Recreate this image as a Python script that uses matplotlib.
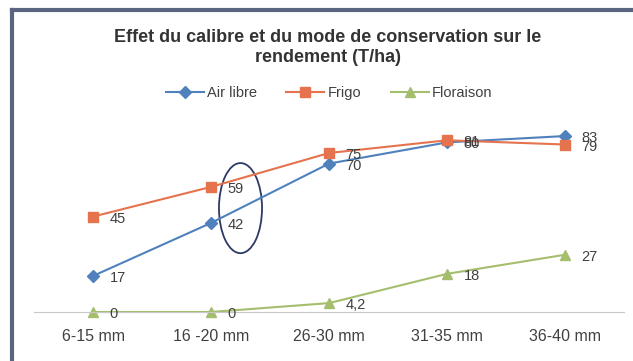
import matplotlib.pyplot as plt
from matplotlib.lines import Line2D
from matplotlib.patches import Ellipse

plt.rcParams['font.family'] = ['Liberation Sans', 'DejaVu Sans']

# données
categories = ['6-15 mm', '16 -20 mm', '26-30 mm', '31-35 mm', '36-40 mm']
air_libre = [17, 42, 70, 80, 83]
frigo = [45, 59, 75, 81, 79]
floraison = [0, 0, 4.2, 18, 27]
labels_air = ['17', '42', '70', '80', '83']
labels_frigo = ['45', '59', '75', '81', '79']
labels_flor = ['0', '0', '4,2', '18', '27']

fig = plt.figure(figsize=(6.33, 3.61), dpi=100)
ax = fig.add_axes([34/633, 1-312/361, 590/633, 212/361])

x = list(range(len(categories)))
ax.plot(x, air_libre, color='#4F81BD', marker='D', markersize=6, lw=1.5, clip_on=False, label='Air libre')
ax.plot(x, frigo, color='#E5734E', marker='s', markersize=7.5, lw=1.5, clip_on=False, label='Frigo')
ax.plot(x, floraison, color='#A5BE6E', marker='^', markersize=7.5, lw=1.5, clip_on=False, label='Floraison')

# étiquettes de données
for serie, labs in [(air_libre, labels_air), (frigo, labels_frigo), (floraison, labels_flor)]:
    for xi, v, t in zip(x, serie, labs):
        ax.annotate(t, (xi, v), xytext=(12, -1.5), textcoords='offset points', va='center',
                    fontsize=10.5, color='#404040')

ax.set_xlim(-0.5, 4.5)
ax.set_ylim(0, 100)
ax.set_xticks(x)
ax.set_xticklabels(categories, fontsize=11.5, color='#404040')
ax.tick_params(axis='x', length=0, pad=12)
ax.set_yticks([])
for s in ['top', 'right', 'left']:
    ax.spines[s].set_visible(False)
ax.spines['bottom'].set_color('#c8c8c8')

# ellipse autour des valeurs 16-20 mm
ax.add_patch(Ellipse((1.25, 49), 0.365, 42.5, fill=False, edgecolor='#2E3A66', lw=1.3, clip_on=False))

fig.text(0.518, 0.895, 'Effet du calibre et du mode de conservation sur le', ha='center', va='center',
         fontsize=13, fontweight='bold', color='#333333')
fig.text(0.518, 0.84, 'rendement (T/ha)', ha='center', va='center',
         fontsize=13, fontweight='bold', color='#333333')

fig.legend(loc='center', bbox_to_anchor=(0.52, 0.743), ncol=3, frameon=False, fontsize=10.5,
           handlelength=2.6, columnspacing=2.0, handletextpad=0.25, labelcolor='#404040')

# cadre (haut et gauche)
fig.add_artist(Line2D([12/633, 12/633], [0, 1-10/361], transform=fig.transFigure, color='#5A6580', lw=3))
fig.add_artist(Line2D([12/633, 1], [1-10/361, 1-10/361], transform=fig.transFigure, color='#5A6580', lw=3))

fig.savefig('out.png', dpi=100)
